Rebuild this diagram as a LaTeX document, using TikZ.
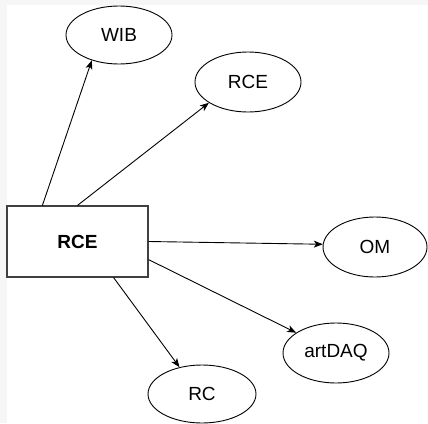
\documentclass[tikz,border=0pt]{standalone}
\usepackage{fontspec}
\setmainfont{Liberation Sans}
\usetikzlibrary{shapes.geometric,arrows.meta}
\definecolor{bggray}{HTML}{F6F6F6}
\tikzset{
  ell/.style={draw=black, line width=0.9pt, ellipse, inner sep=0pt, fill=white,
    font=\fontsize{19}{22}\selectfont},
  box/.style={draw=black!75, line width=1.2pt, rectangle, inner sep=0pt, fill=white,
    minimum width=141pt, minimum height=71pt, font=\fontsize{19}{22}\selectfont\bfseries},
  arr/.style={draw=black, line width=0.9pt, -{Stealth[length=9pt,width=7pt,inset=2.5pt]}}
}
\begin{document}
\begin{tikzpicture}[x=1pt,y=-1pt]
\useasboundingbox (0,0) rectangle (428,423);
\fill[bggray] (0,0) rectangle (428,423);
\fill[white] (7,5) rectangle (428,423);
\node[box] (r) at (77.5,241.5) {RCE};
\node[ell, minimum width=106pt, minimum height=58pt] (wib) at (119,35) {WIB};
\node[ell, minimum width=106pt, minimum height=60pt] (rce) at (248,82) {RCE};
\node[ell, minimum width=104pt, minimum height=60pt] (om) at (375,247) {OM};
\node[ell, minimum width=106pt, minimum height=60pt] (art) at (336,353) {artDAQ};
\node[ell, minimum width=108pt, minimum height=58pt] (rc) at (202,394) {RC};
\draw[arr] ([xshift=36pt]r.north west) -- (wib.223);
\draw[arr] (r.north) -- (rce.208);
\draw[arr] (r.east) -- (om.177);
\draw[arr] ([yshift=18pt]r.south east) -- (art.153);
\draw[arr] ([xshift=-35pt]r.south east) -- (rc.130);
\end{tikzpicture}
\end{document}
